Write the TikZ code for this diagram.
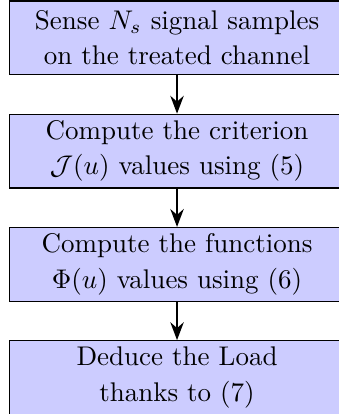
\documentclass[tikz,border=0pt]{standalone}
\usepackage{amsmath,amssymb}
\usetikzlibrary{arrows.meta,positioning}

\begin{document}
\begin{tikzpicture}[
  >=Stealth,
  node distance=0.50cm,
  stepbox/.style={draw, fill=blue!20, minimum width=4.37cm, minimum height=0.96cm,
                  inner sep=2pt, align=center, font=\fontsize{10}{13}\selectfont},
  arr/.style={->, thick},
]

% page frame (the right border of the boxes falls just outside)
\useasboundingbox (-2.305, 0.493) rectangle ++(4.41, -5.39);

% ===== Processing chain =====
\node[stepbox] (sense) at (0, 0) {Sense $N_s$ signal samples\\on the treated channel};
\node[stepbox, below=of sense] (crit) {Compute the criterion\\$\mathcal{J}(u)$ values using (5)};
\node[stepbox, below=of crit] (func) {Compute the functions\\$\Phi(u)$ values using (6)};
\node[stepbox, below=of func] (load) {Deduce the Load\\thanks to (7)};

\draw[arr] (sense) -- (crit);
\draw[arr] (crit) -- (func);
\draw[arr] (func) -- (load);

\end{tikzpicture}
\end{document}
